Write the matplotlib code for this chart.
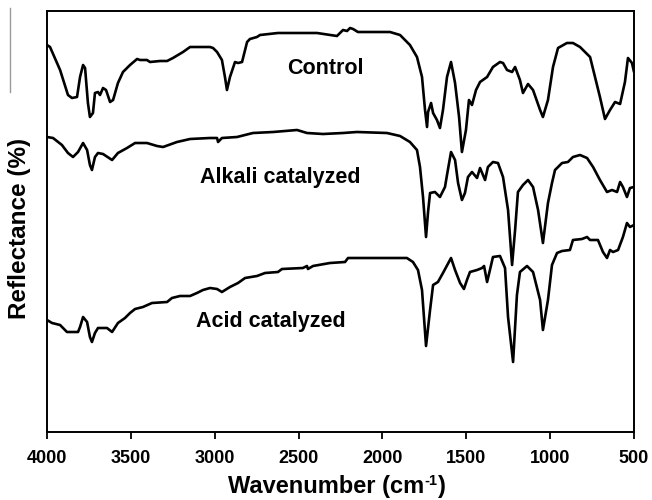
import matplotlib
matplotlib.use("Agg")
import matplotlib.pyplot as plt
from matplotlib.lines import Line2D

plt.rcParams['font.family'] = ['Liberation Sans', 'DejaVu Sans']
plt.rcParams['font.weight'] = 'bold'
plt.rcParams['mathtext.fontset'] = 'custom'
plt.rcParams['mathtext.rm'] = 'Liberation Sans:bold'
plt.rcParams['mathtext.it'] = 'Liberation Sans:bold'
plt.rcParams['mathtext.bf'] = 'Liberation Sans:bold'
plt.rcParams['mathtext.default'] = 'rm'

# ---- data (wavenumber in cm-1, reflectance in arbitrary units) ----
control_wn = [4000, 3982, 3922, 3875, 3851, 3821, 3803, 3785, 3773, 3756, 3744, 3726, 3714, 3696, 3684,
              3666, 3648, 3624, 3606, 3577, 3547, 3505, 3463, 3445, 3404, 3386, 3326, 3284, 3249, 3189,
              3147, 3088, 3028, 3010, 2986, 2957, 2939, 2927, 2909, 2879, 2861, 2837, 2807, 2790, 2748,
              2730, 2623, 2390, 2271, 2235, 2211, 2193, 2175, 2146, 1955, 1895, 1836, 1794, 1764, 1746,
              1734, 1728, 1710, 1698, 1675, 1657, 1639, 1615, 1591, 1567, 1543, 1526, 1502, 1484, 1466,
              1442, 1418, 1376, 1341, 1299, 1281, 1257, 1227, 1209, 1180, 1162, 1132, 1102, 1060, 1043,
              1013, 983, 953, 900, 864, 822, 762, 703, 673, 643, 613, 583, 554, 536, 512, 500]
control_r = [387, 385, 362, 337, 334, 335, 355, 367, 364, 329, 315, 319, 339, 340, 337,
             344, 342, 330, 332, 349, 360, 367, 373, 372, 372, 370, 371, 371, 374, 380,
             385, 385, 385, 384, 380, 372, 355, 342, 355, 370, 369, 370, 390, 393, 395,
             397, 399, 399, 396, 402, 401, 404, 403, 400, 400, 397, 387, 375, 355, 322,
             305, 320, 329, 319, 312, 304, 322, 355, 370, 349, 315, 280, 302, 332, 327,
             342, 350, 355, 365, 370, 369, 362, 360, 365, 352, 339, 348, 342, 322, 315,
             332, 365, 384, 389, 389, 385, 375, 335, 313, 322, 330, 328, 350, 374, 369, 360]

alkali_wn = [4000, 3964, 3911, 3875, 3845, 3815, 3785, 3761, 3744, 3732, 3714, 3696, 3666, 3612, 3577,
             3523, 3475, 3404, 3344, 3308, 3225, 3147, 3028, 2986, 2980, 2957, 2867, 2772, 2652, 2509,
             2450, 2354, 2235, 2152, 1973, 1895, 1836, 1794, 1776, 1758, 1740, 1728, 1716, 1687, 1657,
             1627, 1615, 1591, 1567, 1549, 1526, 1508, 1490, 1466, 1436, 1418, 1388, 1371, 1341, 1311,
             1281, 1251, 1227, 1209, 1192, 1162, 1132, 1102, 1072, 1043, 1013, 989, 971, 929, 894,
             864, 822, 780, 744, 703, 661, 631, 601, 583, 566, 542, 524, 500]
alkali_r = [295, 294, 287, 279, 275, 280, 289, 282, 267, 262, 275, 279, 278, 272, 279,
            284, 289, 289, 286, 285, 290, 293, 294, 294, 290, 294, 295, 299, 300, 302,
            299, 298, 299, 300, 299, 296, 290, 282, 265, 235, 195, 220, 239, 240, 235,
            245, 257, 280, 272, 249, 232, 239, 255, 260, 254, 264, 252, 265, 270, 269,
            255, 222, 167, 202, 240, 247, 252, 245, 222, 189, 229, 249, 262, 269, 270,
            275, 277, 274, 265, 252, 240, 242, 240, 250, 245, 235, 244, 245]

acid_wn = [4000, 3970, 3922, 3881, 3815, 3803, 3785, 3761, 3744, 3732, 3714, 3696, 3642, 3612, 3577,
           3535, 3505, 3475, 3428, 3374, 3284, 3255, 3207, 3147, 3106, 3070, 3028, 2986, 2957, 2909,
           2861, 2819, 2748, 2700, 2623, 2599, 2474, 2450, 2444, 2414, 2313, 2223, 2205, 1854, 1818,
           1788, 1764, 1740, 1716, 1698, 1669, 1639, 1591, 1567, 1537, 1514, 1496, 1478, 1436, 1406,
           1394, 1376, 1359, 1341, 1299, 1269, 1251, 1221, 1198, 1180, 1138, 1102, 1060, 1043, 1013,
           989, 959, 929, 882, 864, 810, 780, 762, 715, 685, 661, 643, 625, 595, 566, 542, 524, 500]
acid_r = [112, 109, 107, 100, 100, 105, 115, 110, 95, 90, 99, 104, 104, 100, 109,
          114, 119, 123, 125, 129, 130, 134, 136, 136, 139, 142, 144, 143, 140, 145,
          149, 154, 156, 159, 160, 163, 164, 166, 163, 166, 169, 170, 174, 174, 170,
          162, 142, 86, 122, 147, 150, 159, 174, 162, 149, 143, 152, 160, 162, 164,
          166, 150, 162, 175, 176, 164, 115, 70, 137, 160, 166, 160, 132, 102, 132,
          167, 179, 181, 182, 192, 193, 195, 192, 192, 180, 174, 182, 180, 182, 195,
          209, 205, 207]

labels = ["Control", "Alkali catalyzed", "Acid catalyzed"]
label_wn = [2342, 2611, 2664]
label_r = [364, 255, 110]

xticks = [4000, 3500, 3000, 2500, 2000, 1500, 1000, 500]
xlabel_main = "Wavenumber (cm"
xlabel_sup = "-1"
xlabel_end = ")"
ylabel = "Reflectance (%)"

# ---- figure ----
W, H = 652, 500
fig = plt.figure(figsize=(W / 100, H / 100), dpi=100)
ax = fig.add_axes([47 / W, (H - 432) / H, (634 - 47) / W, (432 - 11) / H])

for wn, r in [(control_wn, control_r), (alkali_wn, alkali_r), (acid_wn, acid_r)]:
    ax.plot(wn, r, color='black', lw=1.9, solid_joinstyle='round', solid_capstyle='round')

for t, x, y in zip(labels, label_wn, label_r):
    ax.text(x, y, t, ha='center', va='center', fontsize=15.5, fontweight='bold')

ax.set_xlim(4000, 500)
ax.set_ylim(0, 421)
ax.set_xticks(xticks)
ax.set_xticklabels([str(v) for v in xticks], fontsize=13, fontweight='bold')
ax.set_yticks([])
ax.tick_params(axis='x', direction='out', length=5, width=1.3, pad=8)
for s in ax.spines.values():
    s.set_linewidth(1.4)
    s.set_color('black')

# x label built from pieces so the superscript keeps a plain hyphen
fig.canvas.draw()
renderer = fig.canvas.get_renderer()
fs = 17
parts = [
    fig.text(0, 0, xlabel_main, fontsize=fs, fontweight='bold', va='baseline'),
    fig.text(0, 0, xlabel_sup, fontsize=fs * 0.62, fontweight='bold', va='baseline'),
    fig.text(0, 0, xlabel_end, fontsize=fs, fontweight='bold', va='baseline'),
]
widths = [p.get_window_extent(renderer).width for p in parts]
total = sum(widths)
x0 = 337 - total / 2
base = H - 493  # baseline in pixels from bottom
xs = x0
for p, w_, dy in zip(parts, widths, [0, 8, 0]):
    p.set_position((xs / W, (base + dy) / H))
    xs += w_

fig.text(20 / W, 1 - 228 / H, ylabel, ha='center', va='center', rotation=90,
         fontsize=17.5, fontweight='bold')

# thin grey stroke at the far left of the original image
fig.add_artist(Line2D([10 / W, 10 / W], [1 - 8 / H, 1 - 92 / H], color='#9a9a9a', lw=1.0,
                      transform=fig.transFigure))

fig.savefig("out.png", dpi=100)
